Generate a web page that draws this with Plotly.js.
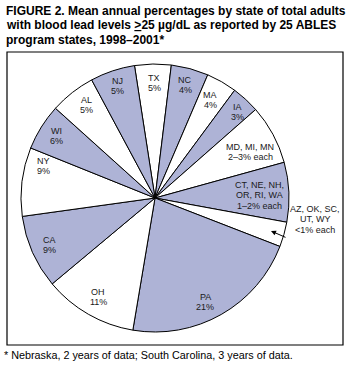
<!DOCTYPE html>
<html>
<head>
<meta charset="utf-8">
<script src="https://cdn.plot.ly/plotly-3.0.1.min.js"></script>
<style>html,body{margin:0;padding:0;background:#fff;}#chart{width:356px;height:367px;}</style>
</head>
<body>
<div id="chart"></div>
<script>
// ---- data ----
const states = ['TX','NC','MA','IA','MD, MI, MN','CT, NE, NH, OR, RI, WA','AZ, OK, SC, UT, WY','PA','OH','CA','NY','WI','AL','NJ'];
const shares = [4.4, 4.5, 3.7, 3.4, 7.2, 7.2, 3.0, 21.8, 11.3, 8.9, 8.3, 5.6, 5.5, 5.4];
const nameLines = ['TX','NC','MA','IA','MD, MI, MN','CT, NE, NH,\nOR, RI, WA','AZ, OK, SC,\nUT, WY','PA','OH','CA','NY','WI','AL','NJ'];
const pctLabels = ['5%','4%','4%','3%','2–3% each','1–2% each','&lt;1% each','21%','11%','9%','9%','6%','5%','5%'];
const titleLines = [
  'FIGURE 2. Mean annual percentages by state of total adults',
  'with blood lead levels <u>></u>25 µg/dL as reported by 25 ABLES',
  'program states, 1998–2001*'
];
const footnote = '* Nebraska, 2 years of data; South Carolina, 3 years of data.';

// ---- layout helpers (positions in pixels) ----
const W = 356, H = 367;
const px = x => x / W;
const py = y => 1 - y / H;
const labelPos = [[154,83],[185,85],[210,100],[237,112],[250,152],[259,195],[315,219],[205,302],[98,297],[49,245],[43,166],[56,136],[86,105],[118,86]];
const blue = '#aeb3d6';
const colors = states.map((s, i) => i % 2 === 0 ? '#ffffff' : blue);
const fontFam = 'Liberation Sans, Arial, Helvetica, sans-serif';

const annotations = [];
titleLines.forEach((t, i) => {
  annotations.push({text: '<b>' + t + '</b>', x: px(4), y: py(11 + i * 14.5), xref: 'paper', yref: 'paper',
    xanchor: 'left', yanchor: 'middle', showarrow: false, font: {family: fontFam, size: 12, color: '#000'}});
});
states.forEach((s, i) => {
  const lines = nameLines[i].split('\n').concat([pctLabels[i]]);
  const [cx, cy] = labelPos[i];
  const step = 10.5;
  const y0 = cy - (lines.length - 1) * step / 2;
  lines.forEach((ln, j) => {
    annotations.push({text: ln, x: px(cx), y: py(y0 + j * step), xref: 'paper', yref: 'paper',
      xanchor: 'center', yanchor: 'middle', showarrow: false, font: {family: fontFam, size: 9, color: '#1a1a1a'}});
  });
});
// arrow for the small group
annotations.push({text: '', x: px(271), y: py(231), xref: 'paper', yref: 'paper', showarrow: true,
  ax: 16, ay: 7, arrowhead: 2, arrowsize: 1, arrowwidth: 1, arrowcolor: '#000', standoff: 0});
annotations.push({text: footnote, x: px(2), y: py(355), xref: 'paper', yref: 'paper',
  xanchor: 'left', yanchor: 'middle', showarrow: false, font: {family: fontFam, size: 10.8, color: '#000'}});

const trace = {
  type: 'pie',
  labels: states,
  values: shares,
  sort: false,
  direction: 'clockwise',
  rotation: -8.8,
  textinfo: 'none',
  hoverinfo: 'label+value',
  marker: {colors: colors, line: {color: '#000', width: 1}},
  domain: {x: [px(21), px(289)], y: [py(332), py(64)]},
  showlegend: false
};

const layout = {
  width: W, height: H,
  margin: {l: 0, r: 0, t: 0, b: 0},
  paper_bgcolor: '#fff',
  showlegend: false,
  annotations: annotations,
  shapes: [{type: 'rect', xref: 'paper', yref: 'paper', x0: px(7), x1: px(343), y0: py(345), y1: py(52),
    line: {color: '#000', width: 1.2}, fillcolor: 'rgba(0,0,0,0)'}]
};

Plotly.newPlot('chart', [trace], layout, {displayModeBar: false, staticPlot: true});
</script>
</body>
</html>
